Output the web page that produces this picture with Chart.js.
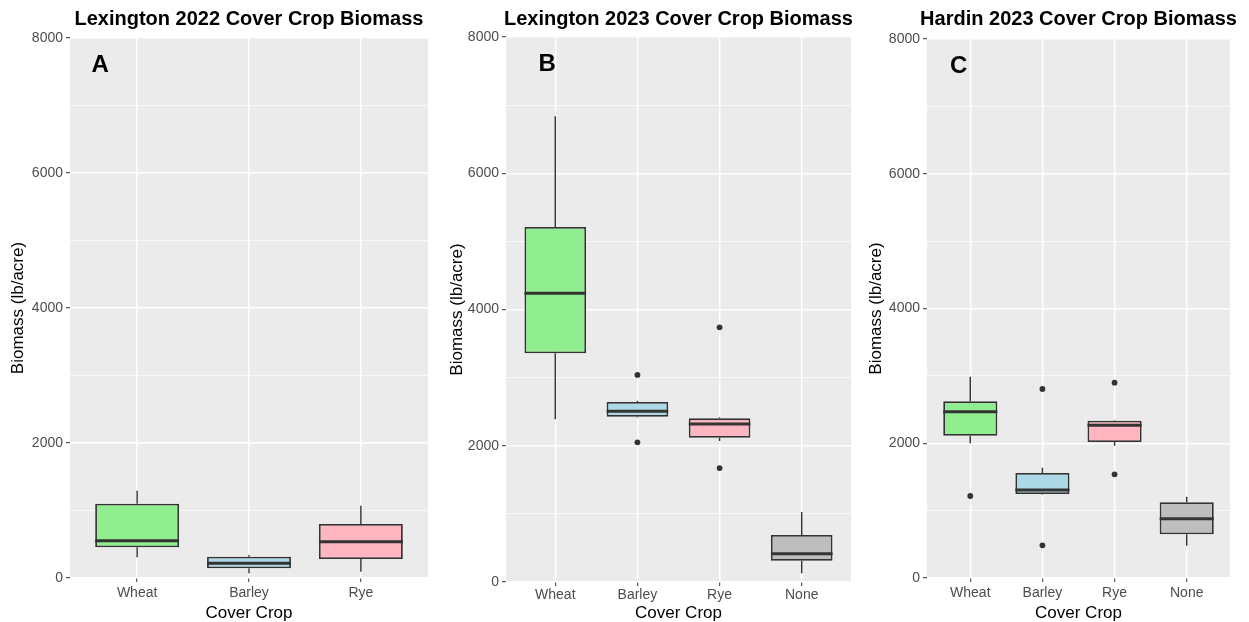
<!DOCTYPE html>
<html>
<head>
<meta charset="utf-8">
<script src="https://cdn.jsdelivr.net/npm/chart.js@4.4.1/dist/chart.umd.min.js"></script>
<style>
    body { margin: 0; background: #ffffff; }
    canvas { position: absolute; top: 0; }
</style>
</head>
<body>
<canvas id="panelA" width="430" height="622" style="left:0px"></canvas>
<canvas id="panelB" width="425" height="622" style="left:430px"></canvas>
<canvas id="panelC" width="394" height="622" style="left:855px"></canvas>
<script>
// dati (lb/acre)
var yTicks = [0, 2000, 4000, 6000, 8000];
var coloriBox = ['#90EE90', '#ADD8E6', '#FFB6C1', '#BEBEBE'];

// pannello A - Lexington 2022
var categorieA = ['Wheat', 'Barley', 'Rye'];
var baffoBassoA = [307, 69, 93];
var q1A = [455, 143, 281];
var medianaA = [553, 217, 538];
var q3A = [1101, 316, 800];
var baffoAltoA = [1293, 341, 1071];
var outlierCatA = [];
var outlierValA = [];

// pannello B - Lexington 2023
var categorieB = ['Wheat', 'Barley', 'Rye', 'None'];
var baffoBassoB = [2388, 2415, 2070, 127];
var q1B = [3357, 2427, 2118, 313];
var medianaB = [4237, 2505, 2319, 416];
var q3B = [5211, 2642, 2402, 690];
var baffoAltoB = [6836, 2662, 2417, 1028];
var outlierCatB = [2, 2, 3, 3];
var outlierValB = [3039, 2050, 3738, 1673];

// pannello C - Hardin 2023
var categorieC = ['Wheat', 'Barley', 'Rye', 'None'];
var baffoBassoC = [1999, 1240, 1964, 479];
var q1C = [2112, 1247, 2019, 649];
var medianaC = [2468, 1306, 2266, 880];
var q3C = [2622, 1558, 2335, 1124];
var baffoAltoC = [2988, 1637, 2340, 1207];
var outlierCatC = [1, 2, 2, 3, 3];
var outlierValC = [1217, 2805, 485, 2899, 1539];

var FONT = "'Liberation Sans', Arial, sans-serif";

function creaPannello(id, p) {
    var n = p.categorie.length;
    var datiBox = [];
    for (var i = 0; i < n; i++) {
        datiBox.push({ x: i + 1, y: [p.q1[i], p.q3[i]] });
    }
    var datiOutlier = [];
    for (var j = 0; j < p.outCat.length; j++) {
        datiOutlier.push({ x: p.outCat[j], y: p.outVal[j] });
    }

    var sfondo = {
        id: 'sfondo',
        beforeDraw: function (chart) {
            var a = chart.chartArea;
            var ctx = chart.ctx;
            ctx.save();
            ctx.fillStyle = '#EBEBEB';
            ctx.fillRect(a.left, a.top, a.right - a.left, a.bottom - a.top);
            ctx.restore();
        }
    };

    var baffi = {
        id: 'baffi',
        beforeDatasetsDraw: function (chart) {
            var sx = chart.scales.x, sy = chart.scales.y, ctx = chart.ctx;
            ctx.save();
            ctx.strokeStyle = '#333333';
            ctx.lineWidth = 1.4;
            for (var i = 0; i < n; i++) {
                var px = sx.getPixelForValue(i + 1);
                ctx.beginPath();
                ctx.moveTo(px, sy.getPixelForValue(p.basso[i]));
                ctx.lineTo(px, sy.getPixelForValue(p.q1[i]));
                ctx.moveTo(px, sy.getPixelForValue(p.q3[i]));
                ctx.lineTo(px, sy.getPixelForValue(p.alto[i]));
                ctx.stroke();
            }
            ctx.restore();
        },
        afterDatasetsDraw: function (chart) {
            var sx = chart.scales.x, sy = chart.scales.y, ctx = chart.ctx;
            var meta = chart.getDatasetMeta(0);
            ctx.save();
            ctx.strokeStyle = '#333333';
            ctx.lineWidth = 3;
            for (var i = 0; i < n; i++) {
                var bar = meta.data[i];
                var py = sy.getPixelForValue(p.mediana[i]);
                ctx.beginPath();
                ctx.moveTo(bar.x - bar.width / 2, py);
                ctx.lineTo(bar.x + bar.width / 2, py);
                ctx.stroke();
            }
            // titolo
            var a = chart.chartArea;
            ctx.fillStyle = '#000000';
            ctx.textAlign = 'center';
            ctx.textBaseline = 'middle';
            ctx.font = 'bold 20px ' + FONT;
            ctx.fillText(p.titolo, (a.left + a.right) / 2, 19);
            // lettera
            ctx.font = 'bold 24px ' + FONT;
            ctx.fillText(p.lettera, sx.getPixelForValue(p.letteraX), sy.getPixelForValue(7600));
            ctx.restore();
        }
    };

    new Chart(document.getElementById(id), {
        type: 'bar',
        data: {
            datasets: [{
                type: 'bar',
                data: datiBox,
                backgroundColor: coloriBox.slice(0, n),
                borderColor: '#333333',
                borderWidth: 1.8,
                borderSkipped: false,
                categoryPercentage: 1,
                barPercentage: 0.75
            }, {
                type: 'scatter',
                data: datiOutlier,
                pointRadius: 2.9,
                pointBackgroundColor: '#333333',
                pointBorderWidth: 0,
                showLine: false
            }]
        },
        options: {
            responsive: false,
            animation: false,
            events: [],
            layout: { padding: { left: 0, right: p.padR, top: p.padT, bottom: 0 } },
            plugins: {
                legend: { display: false },
                tooltip: { enabled: false },
                title: { display: false }
            },
            scales: {
                x: {
                    type: 'linear',
                    min: 0.4,
                    max: n + 0.6,
                    offset: false,
                    afterBuildTicks: function (axis) {
                        axis.ticks = p.categorie.map(function (c, i) { return { value: i + 1 }; });
                    },
                    afterFit: function (axis) { axis.height = p.altezzaX; },
                    grid: { offset: false, color: '#FFFFFF', lineWidth: 1.4, tickColor: '#333333', tickLength: 4, tickWidth: 1 },
                    border: { display: false },
                    ticks: {
                        autoSkip: false,
                        maxRotation: 0,
                        padding: p.padTickX,
                        color: '#4D4D4D',
                        font: { family: FONT, size: 14 },
                        callback: function (v) { return p.categorie[v - 1] || ''; }
                    },
                    title: {
                        display: true,
                        text: 'Cover Crop',
                        color: '#000000',
                        font: { family: FONT, size: 17, lineHeight: 1 },
                        padding: { top: 0, bottom: 0.5 }
                    }
                },
                y: {
                    min: yTicks[0],
                    max: yTicks[yTicks.length - 1],
                    afterFit: function (axis) { axis.width = p.larghezzaY; },
                    grid: {
                        color: '#FFFFFF',
                        lineWidth: function (c) { return c.tick && yTicks.indexOf(c.tick.value) >= 0 ? 1.4 : 0.7; },
                        tickColor: function (c) { return c.tick && yTicks.indexOf(c.tick.value) >= 0 ? '#333333' : 'rgba(0,0,0,0)'; },
                        tickLength: 4,
                        tickWidth: 1
                    },
                    border: { display: false },
                    ticks: {
                        stepSize: 1000,
                        autoSkip: false,
                        padding: 3,
                        color: '#4D4D4D',
                        font: { family: FONT, size: 14 },
                        callback: function (v) { return yTicks.indexOf(v) >= 0 ? String(v) : ''; }
                    },
                    title: {
                        display: true,
                        text: 'Biomass (lb/acre)',
                        color: '#000000',
                        font: { family: FONT, size: 17, lineHeight: 1 },
                        padding: { top: p.padTitoloY, bottom: 0 }
                    }
                }
            }
        },
        plugins: [sfondo, baffi]
    });
}

creaPannello('panelA', {
    titolo: 'Lexington 2022 Cover Crop Biomass', lettera: 'A', letteraX: 0.67,
    categorie: categorieA, basso: baffoBassoA, q1: q1A, mediana: medianaA, q3: q3A, alto: baffoAltoA,
    outCat: outlierCatA, outVal: outlierValA,
    padR: 2, padT: 38, altezzaX: 44, larghezzaY: 70, padTickX: 3, padTitoloY: 9.5
});
creaPannello('panelB', {
    titolo: 'Lexington 2023 Cover Crop Biomass', lettera: 'B', letteraX: 0.9,
    categorie: categorieB, basso: baffoBassoB, q1: q1B, mediana: medianaB, q3: q3B, alto: baffoAltoB,
    outCat: outlierCatB, outVal: outlierValB,
    padR: 3, padT: 37, altezzaX: 40, larghezzaY: 76, padTickX: 1, padTitoloY: 18.5
});
creaPannello('panelC', {
    titolo: 'Hardin 2023 Cover Crop Biomass', lettera: 'C', letteraX: 0.84,
    categorie: categorieC, basso: baffoBassoC, q1: q1C, mediana: medianaC, q3: q3C, alto: baffoAltoC,
    outCat: outlierCatC, outVal: outlierValC,
    padR: 19, padT: 39, altezzaX: 44, larghezzaY: 72, padTickX: 3, padTitoloY: 12.5
});
</script>
</body>
</html>
